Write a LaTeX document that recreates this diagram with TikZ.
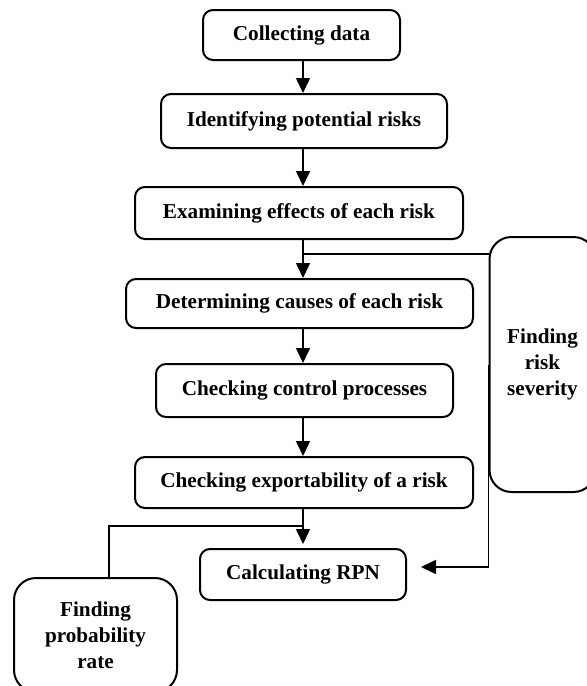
\documentclass[tikz,border=0pt]{standalone}
\usepackage{fontspec}
\setmainfont{Liberation Serif}
\usetikzlibrary{arrows.meta,calc}

\begin{document}
\begin{tikzpicture}[x=0.5pt,y=-0.5pt,
        stepbox/.style={draw, line width=1pt, rounded corners=5pt, inner sep=0pt, align=center,
            font=\fontsize{10.6}{13}\selectfont\bfseries},
        sidebox/.style={stepbox, rounded corners=11pt},
        flow/.style={line width=0.8pt},
        arr/.style={flow, -{Triangle[width=7pt,length=7.5pt]}}]
            \useasboundingbox (0,0) rectangle (587,686);
            \coordinate (axis) at (303,0);
            \node[stepbox, minimum width=98.5pt, minimum height=25pt] (Collect) at (301.5,35) {Collecting data};
            \node[stepbox, minimum width=143pt, minimum height=27pt] (Identify) at (304,121) {Identifying potential risks};
            \node[stepbox, minimum width=164pt, minimum height=26pt] (Examine) at (299,213) {Examining effects of each risk};
            \node[stepbox, minimum width=173.5pt, minimum height=24.5pt] (Cause) at (299.5,303.5) {Determining causes of each risk};
            \node[stepbox, minimum width=148.5pt, minimum height=26.5pt] (Control) at (304.5,390.5) {Checking control processes};
            \node[stepbox, minimum width=169pt, minimum height=25.5pt] (Export) at (304,482.5) {Checking exportability of a risk};
            \node[stepbox, minimum width=103pt, minimum height=25.5pt] (RPN) at (303,574.5) {Calculating RPN};
            \node[sidebox, minimum width=53pt, minimum height=127.5pt] (Severity) at (542.5,364.5) {Finding\\risk\\severity};
            \node[sidebox, minimum width=81.5pt, minimum height=57pt] (Prob) at (95.5,635) {Finding\\probability\\rate};
            \coordinate (SevJoin) at (303,254);
            \coordinate (ProbJoin) at (303,526);
            \coordinate (RPNin) at (421,567);
            \draw[arr] (Collect.south -| axis) -- (Identify.north -| axis);
            \draw[arr] (Identify.south -| axis) -- (Examine.north -| axis);
            \draw[arr] (Examine.south -| axis) -- (Cause.north -| axis);
            \draw[arr] (Cause.south -| axis) -- (Control.north -| axis);
            \draw[arr] (Control.south -| axis) -- (Export.north -| axis);
            \draw[arr, shorten >=2pt] (Export.south -| axis) -- (RPN.north -| axis);
            \draw[flow] (SevJoin -| Severity.west) -- (SevJoin);
            \draw[flow] ($(Prob.north)+(13.5,0)$) |- (ProbJoin);
            \draw[arr] (Severity.west) |- (RPNin);
        \end{tikzpicture}
\end{document}
